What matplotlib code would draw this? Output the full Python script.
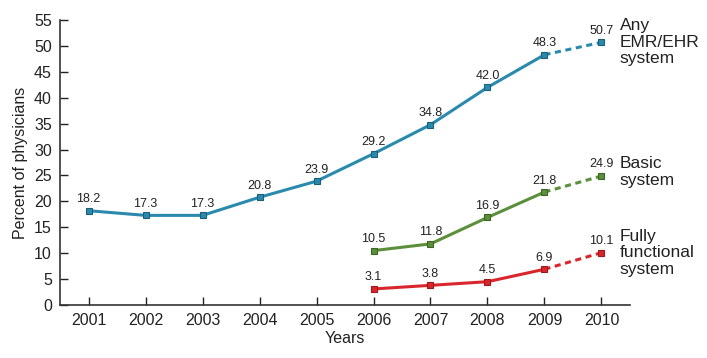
import matplotlib
matplotlib.use('Agg')
import matplotlib.pyplot as plt

plt.rcParams['font.family'] = ['Liberation Sans', 'DejaVu Sans']

years_any = [2001, 2002, 2003, 2004, 2005, 2006, 2007, 2008, 2009, 2010]
any_emr = [18.2, 17.3, 17.3, 20.8, 23.9, 29.2, 34.8, 42.0, 48.3, 50.7]

years_sub = [2006, 2007, 2008, 2009, 2010]
basic = [10.5, 11.8, 16.9, 21.8, 24.9]
fully = [3.1, 3.8, 4.5, 6.9, 10.1]

series = [
    (years_any, any_emr, '#2a8aad', '#1d5f7a', 'Any\nEMR/EHR\nsystem', 0),
    (years_sub, basic, '#5b8f3a', '#3e6428', 'Basic\nsystem', 3),
    (years_sub, fully, '#d9262c', '#9c1a1e', 'Fully\nfunctional\nsystem', 0),
]

fig = plt.figure(figsize=(7.07, 3.58), dpi=100)
ax = fig.add_axes([0.085, 0.148, 0.806, 0.796])

for xs, ys, col, edge, name, dy in series:
    # solid through 2009, dashed projection to 2010
    ax.plot(xs[:-1], ys[:-1], color=col, lw=2.2, zorder=2)
    ax.plot(xs[-2:], ys[-2:], color=col, lw=2.2, ls=(0, (2, 1.5)), zorder=2)
    ax.plot(xs, ys, ls='none', marker='s', ms=5, mfc=col, mec=edge, mew=0.8, zorder=3)
    for x, y in zip(xs, ys):
        ax.annotate('{:.1f}'.format(y), (x, y), xytext=(0, 4), textcoords='offset points',
                    ha='center', va='bottom', fontsize=9, color='#222222')
    ax.annotate(name, (xs[-1], ys[-1]), xytext=(13, dy), textcoords='offset points',
                ha='left', va='center', fontsize=12.5, color='#222222',
                linespacing=1.12, annotation_clip=False)

ax.set_xlim(2000.5, 2010.5)
ax.set_ylim(0, 55)
ax.set_xticks(years_any)
ax.set_yticks(range(0, 56, 5))
ax.tick_params(direction='in', length=6, width=1, labelsize=11.5, colors='#222222', pad=6)
ax.spines['top'].set_visible(False)
ax.spines['right'].set_visible(False)
for s in ('left', 'bottom'):
    ax.spines[s].set_color('#333333')
    ax.spines[s].set_linewidth(1.2)

ax.set_xlabel('Years', fontsize=11.5, color='#222222', labelpad=2)
ax.set_ylabel('Percent of physicians', fontsize=11.5, color='#222222', labelpad=4)

fig.savefig('out.png', dpi=100)
